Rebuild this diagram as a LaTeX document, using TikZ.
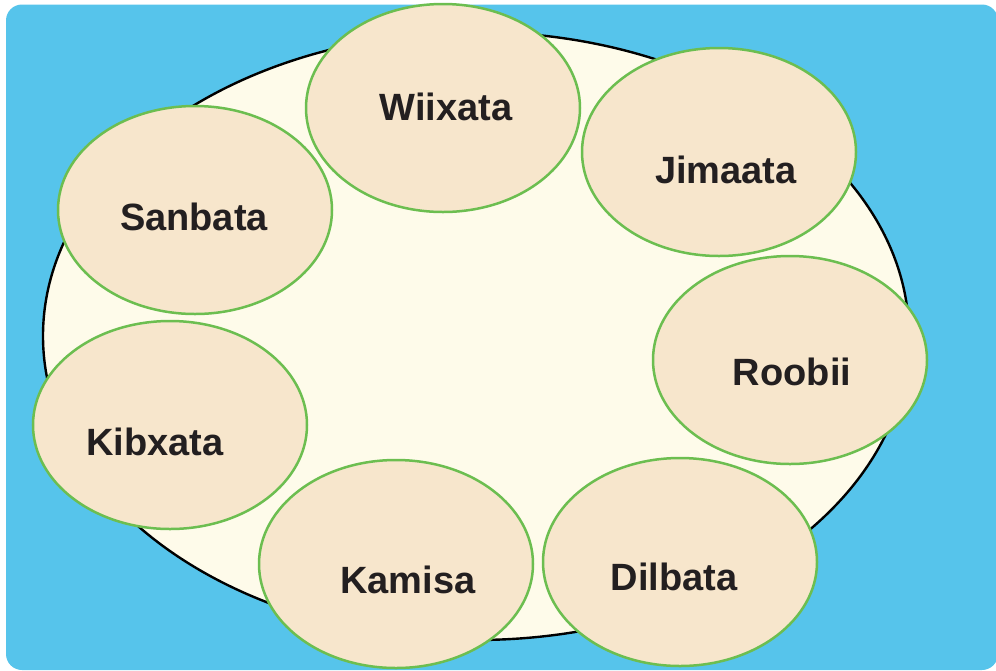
\documentclass[tikz,border=0pt]{standalone}
\usepackage{fontspec}
\setmainfont{Liberation Sans}
\usepackage{tikz}
\usetikzlibrary{shapes.geometric}
\definecolor{sky}{HTML}{56C4EB}
\definecolor{plate}{HTML}{FEFBEA}
\definecolor{leaf}{HTML}{6CBE50}
\definecolor{cream}{HTML}{F7E6CC}
\definecolor{ink}{HTML}{231F20}

\begin{document}
\begin{tikzpicture}[x=1pt, y=-1pt, day/.style = {draw=leaf, fill=cream, ellipse, line width=2.5pt, minimum width=274pt, minimum height=208pt, inner sep=0pt}, daylabel/.style = {anchor=base, text=ink, font=\fontsize{38}{40}\selectfont\bfseries}]
\useasboundingbox (0,0) rectangle (996,670);
\fill[sky, rounded corners=16pt] (6,4.5) rectangle (998,670);
\node[draw, fill=plate, ellipse, line width=2.4pt, minimum width=866pt, minimum height=608pt, inner sep=0pt] (plate) at (476,336) {};
\node[day] (1) at (443,108) {};
\node[day] (2) at (719,152) {};
\node[day] (3) at (790,360) {};
\node[day] (4) at (680,562) {};
\node[day] (5) at (396,564) {};
\node[day] (6) at (170,425) {};
\node[day] (7) at (195,210) {};
\node[daylabel] (t1) at (446,120) {Wiixata};
\node[daylabel] (t2) at (726,183) {Jimaata};
\node[daylabel] (t3) at (792,385) {Roobii};
\node[daylabel] (t4) at (674,590) {Dilbata};
\node[daylabel] (t5) at (408,593) {Kamisa};
\node[daylabel] (t6) at (155,455) {Kibxata};
\node[daylabel] (t7) at (194,230) {Sanbata};
\end{tikzpicture}
\end{document}
